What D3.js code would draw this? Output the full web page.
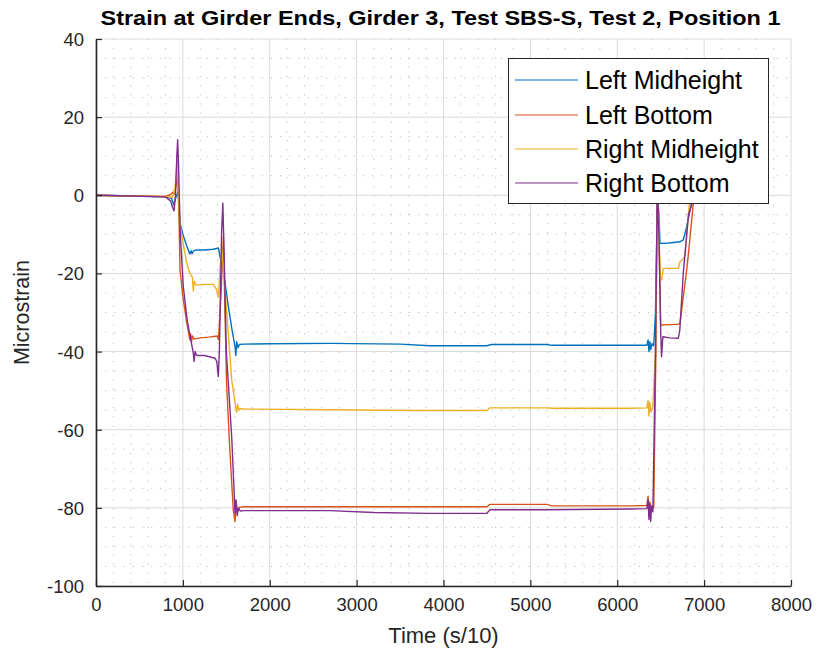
<!DOCTYPE html>
<html>
<head>
<meta charset="utf-8">
<script src="https://cdn.jsdelivr.net/npm/d3@7"></script>
<style>
  html, body { margin: 0; padding: 0; background: #fff; }
  svg { display: block; font-family: "Liberation Sans", Arial, Helvetica, sans-serif; }
</style>
</head>
<body>
<svg id="chart" width="817" height="659"></svg>
<script>
// ---------------- DATA ----------------
const chartTitle = "Strain at Girder Ends, Girder 3, Test SBS-S, Test 2, Position 1";
const xLabel = "Time (s/10)";
const yLabel = "Microstrain";
const xTicks = [0, 1000, 2000, 3000, 4000, 5000, 6000, 7000, 8000];
const yTicks = [-100, -80, -60, -40, -20, 0, 20, 40];
const seriesNames = ["Left Midheight", "Left Bottom", "Right Midheight", "Right Bottom"];
const seriesColors = ["#0072BD", "#D95319", "#EDB120", "#7E2F8E"];

// [time (s/10), microstrain]
const leftMidheight = [
  [0,0],[400,-0.2],[800,-0.4],[870,-0.8],[895,-2.5],[920,-0.5],[945,1],[965,-7],[1000,-10],
  [1045,-13],[1080,-15],[1095,-14.2],[1105,-15],[1120,-14.3],[1150,-14],[1250,-14],[1350,-13.8],
  [1410,-13.5],[1427,-15.7],[1470,-20],[1520,-28],[1570,-35],[1600,-38.7],[1610,-41],[1620,-37.5],
  [1635,-39],[1650,-38.2],[1700,-38.1],[2000,-38],[2690,-37.9],[3500,-38.1],[3840,-38.5],
  [4500,-38.5],[4550,-38.2],[5190,-38.2],[5250,-38.4],[6150,-38.4],[6340,-38.4],[6355,-37],
  [6365,-40],[6375,-37.5],[6385,-39.5],[6400,-38],[6420,-38.5],[6440,-30],[6455,-10],[6465,0],
  [6480,-5],[6492,-12.3],[6510,-12.3],[6600,-12.2],[6720,-11.9],[6760,-11.4],[6800,-8],
  [6855,-2],[6900,-1],[6930,-0.5]
];
const leftBottom = [
  [0,0],[400,-0.2],[800,-0.3],[860,0.2],[885,0.8],[905,0.3],[925,3],[940,5],[955,-5],[967,-19],
  [1000,-26],[1040,-32],[1080,-37],[1090,-35.5],[1100,-37.5],[1110,-36],[1130,-36.8],[1200,-36.5],
  [1300,-36.3],[1395,-36],[1410,-37],[1440,-25],[1466,-10.6],[1480,-25],[1503,-48],[1540,-65],
  [1580,-80.5],[1600,-83.5],[1615,-79],[1630,-81],[1650,-79.8],[1700,-79.7],[2690,-79.7],
  [3650,-79.7],[4500,-79.7],[4535,-79.1],[5190,-79.1],[5250,-79.5],[6150,-79.5],[6340,-79.4],
  [6355,-77],[6365,-82],[6375,-78.5],[6390,-80],[6420,-80],[6445,-40],[6460,0],[6480,-10],
  [6500,-33.2],[6510,-33.2],[6600,-33.1],[6703,-33],[6722,-32.8],[6760,-26],[6800,-19],
  [6818,-15.3],[6876,-2],[6930,-0.5]
];
const rightMidheight = [
  [0,0],[400,-0.2],[800,-0.3],[880,-0.5],[910,2],[935,9],[950,0],[970,-8],[1000,-12],
  [1045,-17.3],[1080,-20],[1110,-21],[1120,-24.5],[1130,-22],[1150,-23],[1250,-22.8],[1350,-22.8],
  [1390,-24.2],[1410,-26],[1430,-18],[1450,-14],[1470,-20],[1523,-35.3],[1562,-47.3],[1600,-53],
  [1618,-55.5],[1630,-53.5],[1645,-55],[1660,-54.6],[1700,-54.7],[2690,-54.9],[3650,-55.1],
  [4500,-55.1],[4535,-54.4],[5190,-54.4],[5250,-54.5],[6150,-54.5],[6340,-54.4],[6355,-52.5],
  [6365,-56.5],[6375,-53],[6390,-55.5],[6410,-54],[6440,-40],[6460,-5],[6475,-5],[6495,-21],
  [6510,-21.7],[6530,-18.7],[6600,-18.7],[6703,-18.7],[6722,-17],[6760,-16.3],[6780,-15.3],
  [6830,-2],[6900,-0.5],[6930,-0.3]
];
const rightBottom = [
  [0,0],[400,-0.2],[800,-0.4],[860,-1.5],[880,-3],[898,-4],[915,0],[930,10],[940,14.2],[950,8],
  [970,-10],[1005,-23.4],[1050,-32],[1100,-38],[1120,-40.4],[1130,-42.5],[1140,-40],[1160,-41],
  [1250,-41],[1370,-41.7],[1390,-42.5],[1408,-46.4],[1420,-40],[1445,-10],[1460,-2],[1475,-15],
  [1500,-40],[1523,-48],[1562,-61.8],[1590,-76],[1600,-81.4],[1612,-78],[1625,-82],[1640,-80],
  [1660,-80.8],[1700,-80.7],[2690,-80.7],[3200,-81.2],[3840,-81.4],[4500,-81.4],[4535,-80.5],
  [5190,-80.5],[6150,-80.3],[6340,-80.2],[6355,-78],[6365,-83],[6375,-79],[6385,-83.5],
  [6395,-79.5],[6410,-81],[6440,-40],[6460,0],[6480,-10],[6500,-35],[6510,-41.3],[6525,-36.2],
  [6600,-36.5],[6703,-36.6],[6720,-34.5],[6760,-20],[6820,-5],[6870,-1.5],[6920,-0.5]
];
const seriesData = [leftMidheight, leftBottom, rightMidheight, rightBottom];

// ---------------- LAYOUT ----------------
const W = 817, H = 659;
const plot = { left: 96, right: 791, top: 39, bottom: 586 };
const axisColor = "#262626";

const svg = d3.select("#chart");
const x = d3.scaleLinear().domain([0, 8000]).range([plot.left, plot.right]);
const y = d3.scaleLinear().domain([-100, 40]).range([plot.bottom, plot.top]);

svg.append("rect").attr("width", W).attr("height", H).attr("fill", "#fff");

// minor grid
const xMinor = d3.range(0, 8001, 200).filter(v => v % 1000 !== 0);
const yMinor = d3.range(-100, 41, 5).filter(v => v % 20 !== 0);
const grid = svg.append("g");
grid.selectAll(".xm").data(xMinor).join("line")
  .attr("x1", d => x(d)).attr("x2", d => x(d))
  .attr("y1", plot.top).attr("y2", plot.bottom)
  .attr("stroke", "#bdbdbd").attr("stroke-width", 1).attr("stroke-dasharray", "1.2,8");
grid.selectAll(".ym").data(yMinor).join("line")
  .attr("x1", plot.left).attr("x2", plot.right)
  .attr("y1", d => y(d)).attr("y2", d => y(d))
  .attr("stroke", "#bdbdbd").attr("stroke-width", 1).attr("stroke-dasharray", "1.2,8");
// major grid
grid.selectAll(".xg").data(xTicks).join("line")
  .attr("x1", d => x(d)).attr("x2", d => x(d))
  .attr("y1", plot.top).attr("y2", plot.bottom)
  .attr("stroke", "#dadada").attr("stroke-width", 1);
grid.selectAll(".yg").data(yTicks).join("line")
  .attr("x1", plot.left).attr("x2", plot.right)
  .attr("y1", d => y(d)).attr("y2", d => y(d))
  .attr("stroke", "#dadada").attr("stroke-width", 1);

// data lines
svg.append("clipPath").attr("id", "clip").append("rect")
  .attr("x", plot.left).attr("y", plot.top)
  .attr("width", plot.right - plot.left).attr("height", plot.bottom - plot.top);
const line = d3.line().x(d => x(d[0])).y(d => y(d[1]));
svg.append("g").attr("clip-path", "url(#clip)")
  .selectAll("path").data(seriesData).join("path")
  .attr("d", line)
  .attr("fill", "none")
  .attr("stroke", (d, i) => seriesColors[i])
  .attr("stroke-width", 1.4)
  .attr("stroke-linejoin", "round");

// axes
const fmt = d => String(d);
const xAxis = d3.axisBottom(x).tickValues(xTicks).tickFormat(fmt).tickSizeInner(-6).tickSizeOuter(0).tickPadding(12);
const yAxis = d3.axisLeft(y).tickValues(yTicks).tickFormat(fmt).tickSizeInner(-6).tickSizeOuter(0).tickPadding(12);
const gx = svg.append("g").attr("transform", `translate(0,${plot.bottom})`).call(xAxis);
const gy = svg.append("g").attr("transform", `translate(${plot.left},0)`).call(yAxis);
[gx, gy].forEach(g => {
  g.select(".domain").attr("stroke", axisColor).attr("stroke-width", 1.6);
  g.selectAll(".tick line").attr("stroke", axisColor).attr("stroke-width", 1.2);
  g.selectAll(".tick text").attr("fill", axisColor).attr("font-size", 18.5)
    .attr("font-family", "'Liberation Sans', Arial, sans-serif");
});
gx.selectAll(".tick text").attr("dy", "0.71em");
gy.selectAll(".tick text").attr("dy", "0.35em");

// title and labels
svg.append("text").attr("x", (plot.left + plot.right) / 2 - 3).attr("y", 25)
  .attr("text-anchor", "middle").attr("font-weight", "bold").attr("font-size", 21)
  .attr("textLength", 680).attr("lengthAdjust", "spacingAndGlyphs")
  .attr("fill", "#000").text(chartTitle);
svg.append("text").attr("x", (plot.left + plot.right) / 2).attr("y", 643)
  .attr("text-anchor", "middle").attr("font-size", 22).attr("fill", axisColor).text(xLabel);
svg.append("text").attr("transform", `translate(29,${(plot.top + plot.bottom) / 2}) rotate(-90)`)
  .attr("text-anchor", "middle").attr("font-size", 21.5).attr("fill", axisColor).text(yLabel);

// legend
const lg = svg.append("g");
lg.append("rect").attr("x", 508.5).attr("y", 58.5).attr("width", 260).attr("height", 145)
  .attr("fill", "#fff").attr("stroke", axisColor).attr("stroke-width", 1);
const rowY = [80, 115, 149, 183];
seriesNames.forEach((name, i) => {
  lg.append("line").attr("x1", 515).attr("x2", 578).attr("y1", rowY[i]).attr("y2", rowY[i])
    .attr("stroke", seriesColors[i]).attr("stroke-width", 1.2);
  lg.append("text").attr("x", 585).attr("y", rowY[i]).attr("dy", "0.35em")
    .attr("font-size", 25).attr("fill", "#000").text(name);
});
</script>
</body>
</html>
